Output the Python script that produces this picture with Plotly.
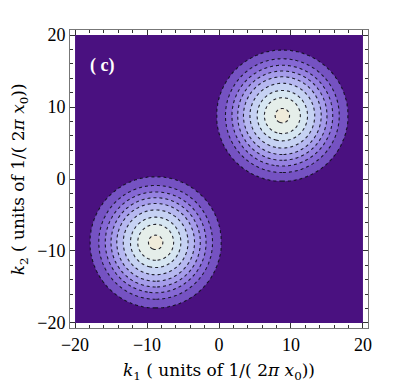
import numpy as np
import plotly.graph_objects as go

# peak centres (k1, k2)
centers_k1 = [8.8, -8.8]
centers_k2 = [8.8, -8.8]

# radii of the contour rings, outermost to innermost (units of 1/(2 pi x0))
ring_radii = [9.1, 7.9, 7.0, 6.2, 5.4, 4.5, 3.5, 2.5, 1.0]
ring_levels = [0.5, 1.5, 2.5, 3.5, 4.5, 5.5, 6.5, 7.5, 8.5]

# band colours, background first, centre last
band_colors = ['#4a1180', '#7552c2', '#8568d4', '#9581e0', '#a59cea',
               '#b6b8f0', '#c6d2f3', '#d6e6f2', '#e5eeea', '#f0ebda']

tick_vals = [-20, -10, 0, 10, 20]

k = np.linspace(-20, 20, 401)
K1, K2 = np.meshgrid(k, k)
r = np.min([np.hypot(K1 - a, K2 - b) for a, b in zip(centers_k1, centers_k2)], axis=0)
xp = [0.0] + ring_radii[::-1] + [12.0]
fp = [9.0] + ring_levels[::-1] + [0.0]
Z = np.interp(r, xp, fp)

scale = [[i / (len(band_colors) - 1), c] for i, c in enumerate(band_colors)]

fig = go.Figure(go.Contour(
    x=k, y=k, z=Z,
    colorscale=scale, showscale=False,
    contours=dict(start=0.5, end=8.5, size=1, coloring='fill'),
    line=dict(color='rgba(15,15,25,0.9)', width=1.1, dash='dot'),
    hoverinfo='skip',
))

serif = 'Liberation Serif'
title_font = dict(family='DejaVu Serif', size=17, color='black')
axis = dict(range=[-20.7, 20.7], tickvals=tick_vals, ticks='inside', ticklen=5,
            tickcolor='#333', showline=True, linecolor='#777', linewidth=1,
            mirror='allticks', showgrid=False, zeroline=False, automargin=False,
            minor=dict(ticks='inside', ticklen=3, dtick=2, tickcolor='#333'),
            tickfont=dict(family=serif, size=18, color='black'))

# the page body has an 8px margin, so the plot box is pulled up/left by 8px
fig.update_layout(
    width=399, height=383,
    margin=dict(l=62, r=39, t=22, b=63),
    plot_bgcolor='white', paper_bgcolor='white',
    xaxis=axis, yaxis=axis,
    annotations=[
        dict(x=-16.2, y=15.8, text='<b>( c)</b>', showarrow=False,
             font=dict(family=serif, size=18, color='white')),
        dict(xref='paper', yref='paper', x=0.5, y=-0.145, yanchor='middle',
             text='<i>k</i><sub>1</sub> ( units of 1/( 2<i>π x</i><sub>0</sub>))',
             showarrow=False, font=title_font),
        dict(xref='paper', yref='paper', x=-0.17, y=0.5, xanchor='center',
             textangle=-90,
             text='<i>k</i><sub>2</sub> ( units of 1/( 2<i>π x</i><sub>0</sub>))',
             showarrow=False, font=title_font),
    ],
)

fig.write_html("out.html")
